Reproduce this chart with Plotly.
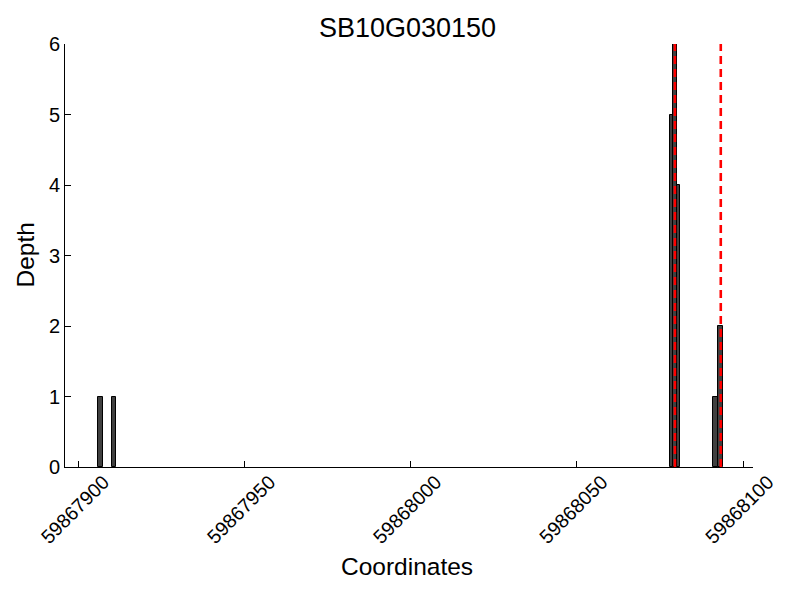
import plotly.graph_objects as go

# Data
bin_left = [59867905.9, 59867910.1, 59868078.0, 59868079.0, 59868080.0, 59868090.9, 59868092.5]
bin_right = [59867907.4, 59867911.3, 59868079.0, 59868080.0, 59868081.1, 59868092.5, 59868094.0]
depth = [1, 1, 5, 6, 4, 1, 2]
marker_positions = [59868079.5, 59868093.3]
x_ticks = [59867900, 59867950, 59868000, 59868050, 59868100]
y_ticks = [0, 1, 2, 3, 4, 5, 6]
title = "SB10G030150"
x_title = "Coordinates"
y_title = "Depth"

centers = [(a + b) / 2 for a, b in zip(bin_left, bin_right)]
widths = [b - a for a, b in zip(bin_left, bin_right)]

fig = go.Figure()
fig.add_trace(go.Bar(
    x=centers, y=depth, width=widths,
    marker=dict(color="#404040", line=dict(color="black", width=1)),
    showlegend=False,
))
for xp in marker_positions:
    fig.add_shape(type="line", x0=xp, x1=xp, y0=0, y1=6, xref="x", yref="y",
                  line=dict(color="red", width=2.6, dash="8px,5px"))

fig.update_layout(
    width=800, height=600,
    margin=dict(l=57, r=55, t=36, b=141),
    paper_bgcolor="white", plot_bgcolor="white",
    font=dict(family="Liberation Sans, Arial, sans-serif", color="black", size=20),
    title=dict(text=title, x=0.4994, xanchor="center", y=0.9675, yanchor="middle",
               font=dict(size=27)),
    bargap=0,
    annotations=[
        dict(text=x_title, xref="paper", yref="paper", x=0.497, y=-0.2364,
             xanchor="center", yanchor="middle", showarrow=False, font=dict(size=24.5)),
        dict(text=y_title, xref="paper", yref="paper", x=-0.0581, y=0.5,
             xanchor="center", yanchor="middle", showarrow=False, textangle=-90,
             font=dict(size=24.5)),
    ],
)
fig.update_xaxes(
    range=[59867895.9, 59868103.0], automargin=False,
    tickvals=x_ticks, ticktext=[str(v) for v in x_ticks],
    tickangle=-45, ticks="inside", ticklen=6, tickcolor="black",
    ticklabelshift=25, ticklabelstandoff=-5,
    showline=True, linecolor="black", linewidth=1, showgrid=False, zeroline=False,
    tickfont=dict(size=19.5),
)
fig.update_yaxes(
    range=[0, 6], tickvals=y_ticks, automargin=False,
    ticks="inside", ticklen=6, tickcolor="black",
    showline=True, linecolor="black", linewidth=1, showgrid=False, zeroline=False,
    tickfont=dict(size=20),
)

fig.write_html("out.html")
